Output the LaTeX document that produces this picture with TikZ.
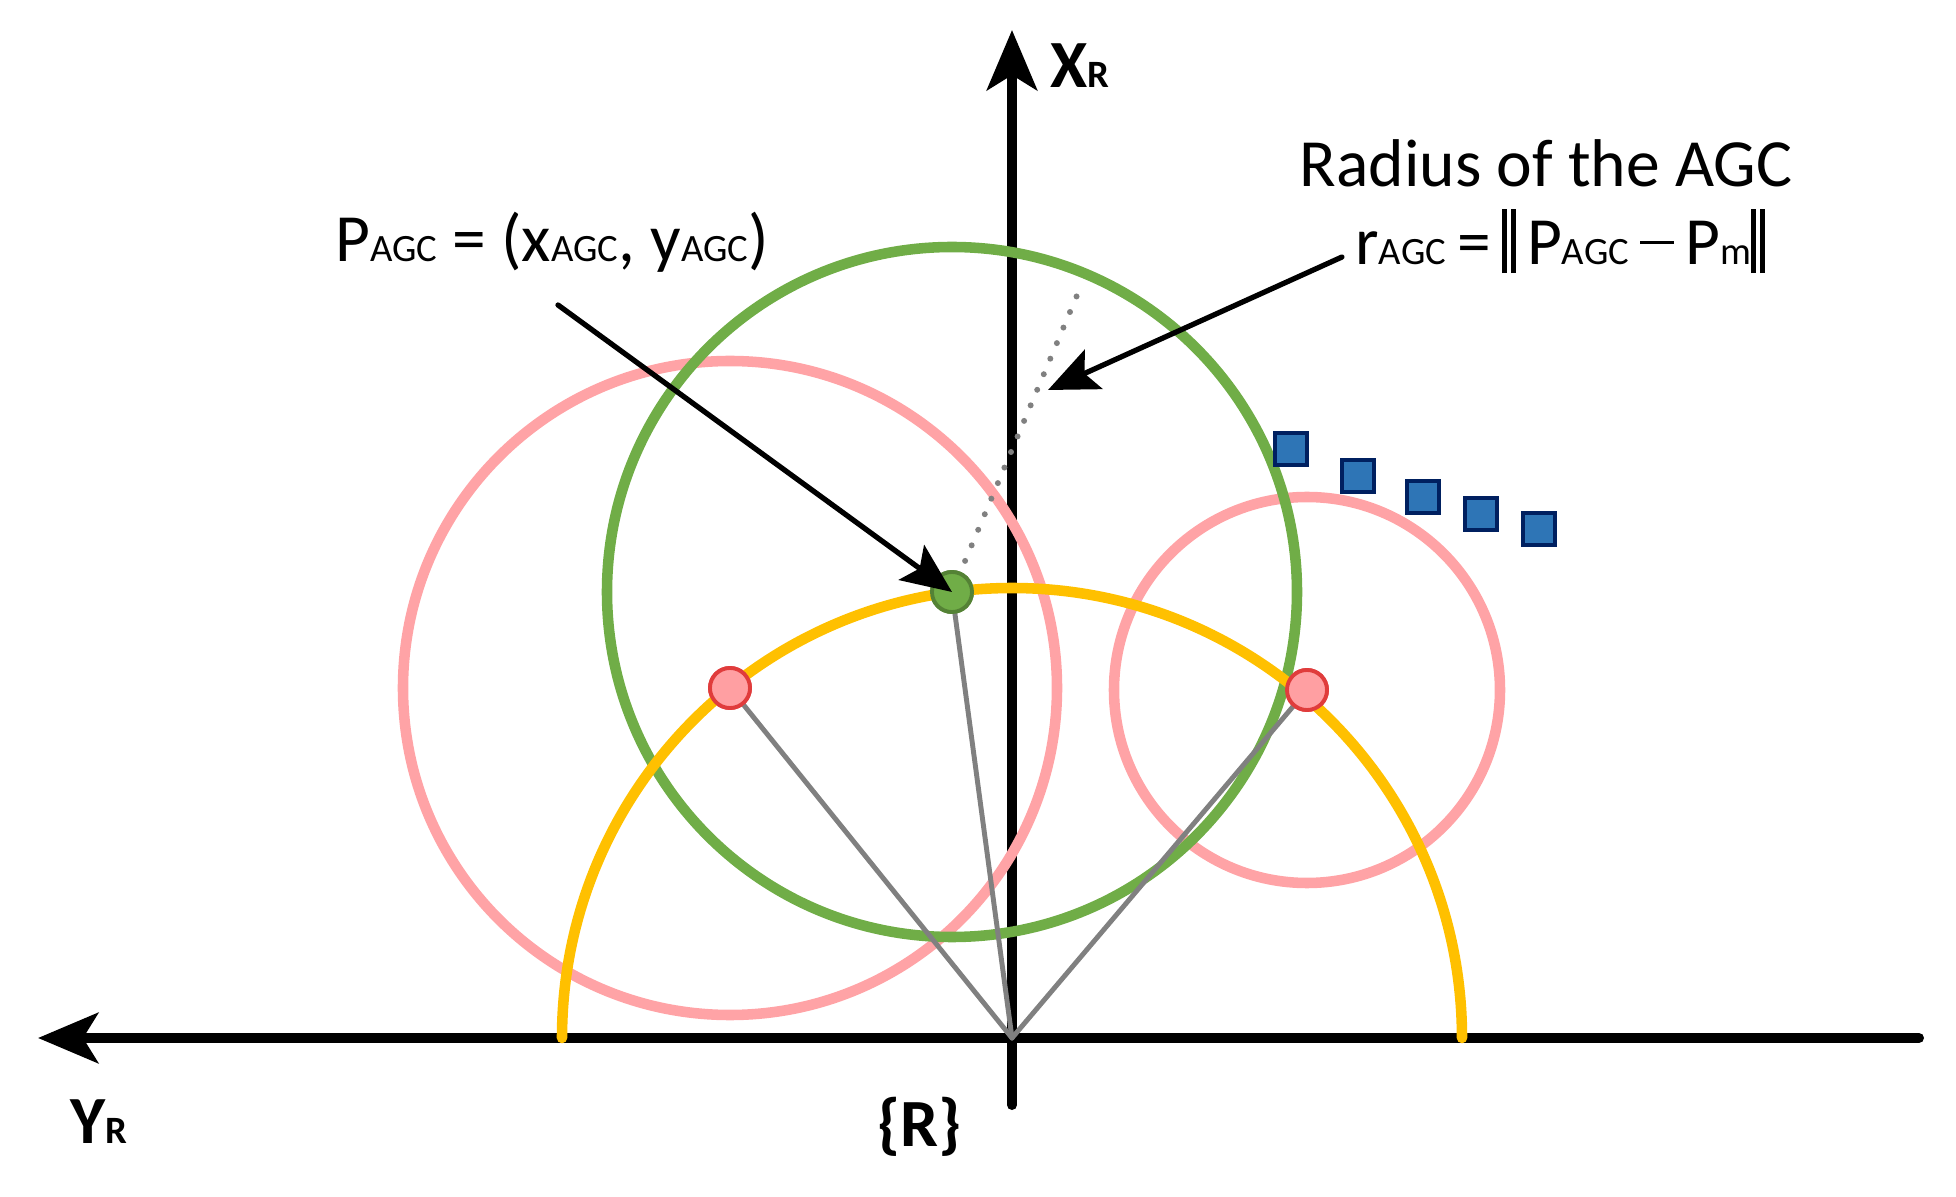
\documentclass[tikz,border=0pt]{standalone}
\usepackage{fontspec}
\setmainfont{Carlito}
\usetikzlibrary{arrows.meta}

\definecolor{agcgreen}{HTML}{70AD47}
\definecolor{agcdark}{HTML}{548235}
\definecolor{arcyellow}{HTML}{FFC000}
\definecolor{rangepink}{HTML}{FFA3A6}
\definecolor{markred}{HTML}{E03C3C}
\definecolor{markfill}{HTML}{FF9FA2}
\definecolor{wallblue}{HTML}{2E75B6}
\definecolor{wallnavy}{HTML}{002060}

\tikzset{axis/.style = {line width=2.85pt, line cap=round, -{Stealth[length=6mm,width=5mm,inset=1.5mm]}}}
\tikzset{pointer/.style = {line width=1.5pt, line cap=round, -{Stealth[length=5mm,width=4.3mm,inset=1mm]}}}
\tikzset{ring/.style = {line width=3pt}}
\tikzset{ray/.style = {draw=gray, line width=1.4pt, line cap=round}}
\tikzset{landmark/.style = {shape=circle, draw=markred, fill=markfill, line width=1.1pt, minimum size=4mm, inner sep=0}}
\tikzset{agcpoint/.style = {shape=circle, draw=agcdark, fill=agcgreen, line width=1.1pt, minimum size=4mm, inner sep=0}}
\tikzset{wall/.style = {shape=rectangle, draw=wallnavy, fill=wallblue, line width=1.1pt, minimum size=3.2mm, inner sep=0}}
\tikzset{label/.style = {inner sep=0, font=\fontsize{19.2}{20}\selectfont}}

\newcommand{\agcsub}[1]{{\fontsize{11}{12}\selectfont #1}}
\newcommand{\axsub}[1]{{\fontsize{11}{12}\selectfont #1}}
\newcommand{\dnorm}{\rule[-0.12em]{0.07em}{0.95em}\hspace{0.06em}\rule[-0.12em]{0.07em}{0.95em}}
\newcommand{\dminus}{\rule[0.31em]{0.5em}{0.05em}}

\begin{document}
\begin{tikzpicture}[x=0.01cm, y=0.01cm]
  \useasboundingbox (0,0) rectangle (1956,1196);

  % frame {R}
  \coordinate (O) at (1012,158);
  \coordinate (xtip) at (1012,1166);
  \coordinate (xend) at (1012,91);
  \coordinate (ytip) at (38,158);
  \coordinate (yend) at (1919,158);
  \draw[axis] (xend) -- (xtip);
  \draw[axis] (yend) -- (ytip);

  % AGC and the two range circles
  \node[agcpoint] (G) at (952,604) {};
  \node[landmark] (A) at (730,508) {};
  \node[landmark] (B) at (1307,506) {};

  \draw[rangepink, ring] (A.center) circle (327);
  \draw[rangepink, ring] (B.center) circle (193);
  \draw[agcgreen, ring] (G.center) circle (345);
  \draw[arcyellow, ring, line cap=round] (O) ++(450,0) arc (0:180:450);

  \draw[ray] (O) -- (A.center);
  \draw[ray] (O) -- (B.center);
  \draw[ray] (O) -- (G.center);

  \coordinate (D) at (1078,903);
  \draw[gray, line width=1.7pt, line cap=round, dash pattern=on 0pt off 4.8pt] (G.center) -- (D);

  \node[agcpoint] at (G) {};
  \node[landmark] at (A) {};
  \node[landmark] at (B) {};

  % wall points
  \node[wall] (w1) at (1291,747) {};
  \node[wall] (w2) at (1358,720) {};
  \node[wall] (w3) at (1423,699) {};
  \node[wall] (w4) at (1481,682) {};
  \node[wall] (w5) at (1539,667) {};

  % labels
  \node[label, anchor=base] (lblP) at (552,934) {P\agcsub{AGC} = (x\agcsub{AGC}, y\agcsub{AGC})};
  \node[label, anchor=base] (lblRad) at (1546,1009) {Radius of the AGC};
  \node[label, anchor=base] (lblR) at (1560,931) {r\agcsub{AGC}\,=\,\dnorm\,P\agcsub{AGC}\,\dminus\,P\agcsub{m}\dnorm};
  \node[label, anchor=base west, font=\fontsize{19.2}{20}\selectfont\bfseries] (lblX) at (1050,1108) {X\axsub{R}};
  \node[label, anchor=base west, font=\fontsize{19.2}{20}\selectfont\bfseries] (lblY) at (70,53) {Y\axsub{R}};
  \node[label, anchor=base west, font=\fontsize{19.2}{20}\selectfont\bfseries] (lblO) at (877,49) {\{R\}};

  \coordinate (p1s) at (558,891);
  \coordinate (p2s) at (1342,939);
  \coordinate (p2e) at (1048,806);
  \draw[pointer] (p1s) -- (G.center);
  \draw[pointer] (p2s) -- (p2e);
\end{tikzpicture}
\end{document}
